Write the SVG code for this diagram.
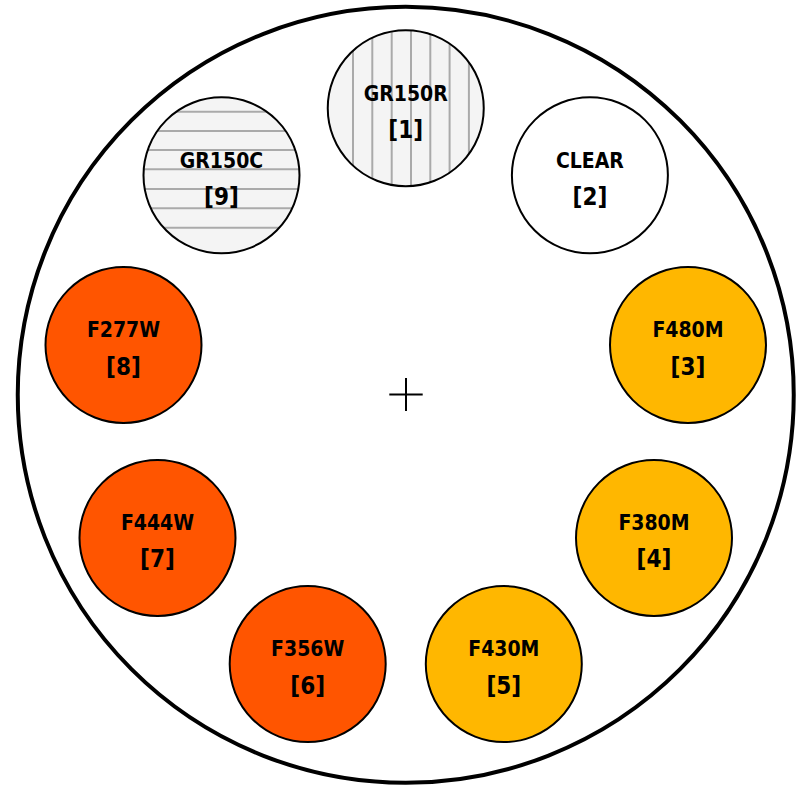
<svg xmlns="http://www.w3.org/2000/svg" width="797" height="785" viewBox="0 0 797 785">
<style>
.wheel{fill:#ffffff;stroke:#000;stroke-width:4}
.f{stroke:#000;stroke-width:2}
.red{fill:#ff5500}
.amb{fill:#ffb700}
.clr{fill:#ffffff}
.grism{fill:#f4f4f4}
.hatch{stroke:#aaaaaa;stroke-width:2}
.lbl{font-family:"DejaVu Sans Condensed","DejaVu Sans",sans-serif;font-stretch:condensed;font-weight:bold;font-size:21px;text-anchor:middle;fill:#000}
.num{font-size:24px}
.cross{stroke:#000;stroke-width:2}
</style>
<defs>
<clipPath id="c1"><circle cx="405.75" cy="108.2" r="78"/></clipPath>
<clipPath id="c9"><circle cx="221.5" cy="175.3" r="78"/></clipPath>
</defs>
<circle class="wheel" cx="405.75" cy="394.8" r="388"/>
<g id="connectors">
<path class="cross" d="M389.3 394.5H422.7M406 378V411"/>
</g>
<g id="n1">
<circle class="grism" cx="405.75" cy="108.2" r="78"/>
<g clip-path="url(#c1)" class="hatch">
<path d="M353 20V200M372.3 20V200M391.7 20V200M411 20V200M430.3 20V200M449.6 20V200M468.9 20V200"/>
</g>
<circle class="f" fill="none" cx="405.75" cy="108.2" r="78"/>
<text class="lbl" x="405.75" y="101">GR150R</text>
<text class="lbl num" x="405.75" y="138">[1]</text>
</g>
<g id="n2">
<circle class="f clr" cx="589.9" cy="175.3" r="78"/>
<text class="lbl" x="589.9" y="168">CLEAR</text>
<text class="lbl num" x="589.9" y="205">[2]</text>
</g>
<g id="n3">
<circle class="f amb" cx="688" cy="345" r="78"/>
<text class="lbl" x="688" y="337">F480M</text>
<text class="lbl num" x="688" y="375">[3]</text>
</g>
<g id="n4">
<circle class="f amb" cx="654" cy="538" r="78"/>
<text class="lbl" x="654" y="530">F380M</text>
<text class="lbl num" x="654" y="567">[4]</text>
</g>
<g id="n5">
<circle class="f amb" cx="503.8" cy="664.1" r="78"/>
<text class="lbl" x="503.8" y="656">F430M</text>
<text class="lbl num" x="503.8" y="694">[5]</text>
</g>
<g id="n6">
<circle class="f red" cx="307.7" cy="664.1" r="78"/>
<text class="lbl" x="307.7" y="656">F356W</text>
<text class="lbl num" x="307.7" y="694">[6]</text>
</g>
<g id="n7">
<circle class="f red" cx="157.5" cy="538" r="78"/>
<text class="lbl" x="157.5" y="530">F444W</text>
<text class="lbl num" x="157.5" y="567">[7]</text>
</g>
<g id="n8">
<circle class="f red" cx="123.5" cy="345" r="78"/>
<text class="lbl" x="123.5" y="337">F277W</text>
<text class="lbl num" x="123.5" y="375">[8]</text>
</g>
<g id="n9">
<circle class="grism" cx="221.5" cy="175.3" r="78"/>
<g clip-path="url(#c9)" class="hatch">
<path d="M130 111.7H310M130 131H310M130 150H310M130 169.3H310M130 189H310M130 208.3H310M130 227.7H310"/>
</g>
<circle class="f" fill="none" cx="221.5" cy="175.3" r="78"/>
<text class="lbl" x="221.5" y="168">GR150C</text>
<text class="lbl num" x="221.5" y="205">[9]</text>
</g>
</svg>
